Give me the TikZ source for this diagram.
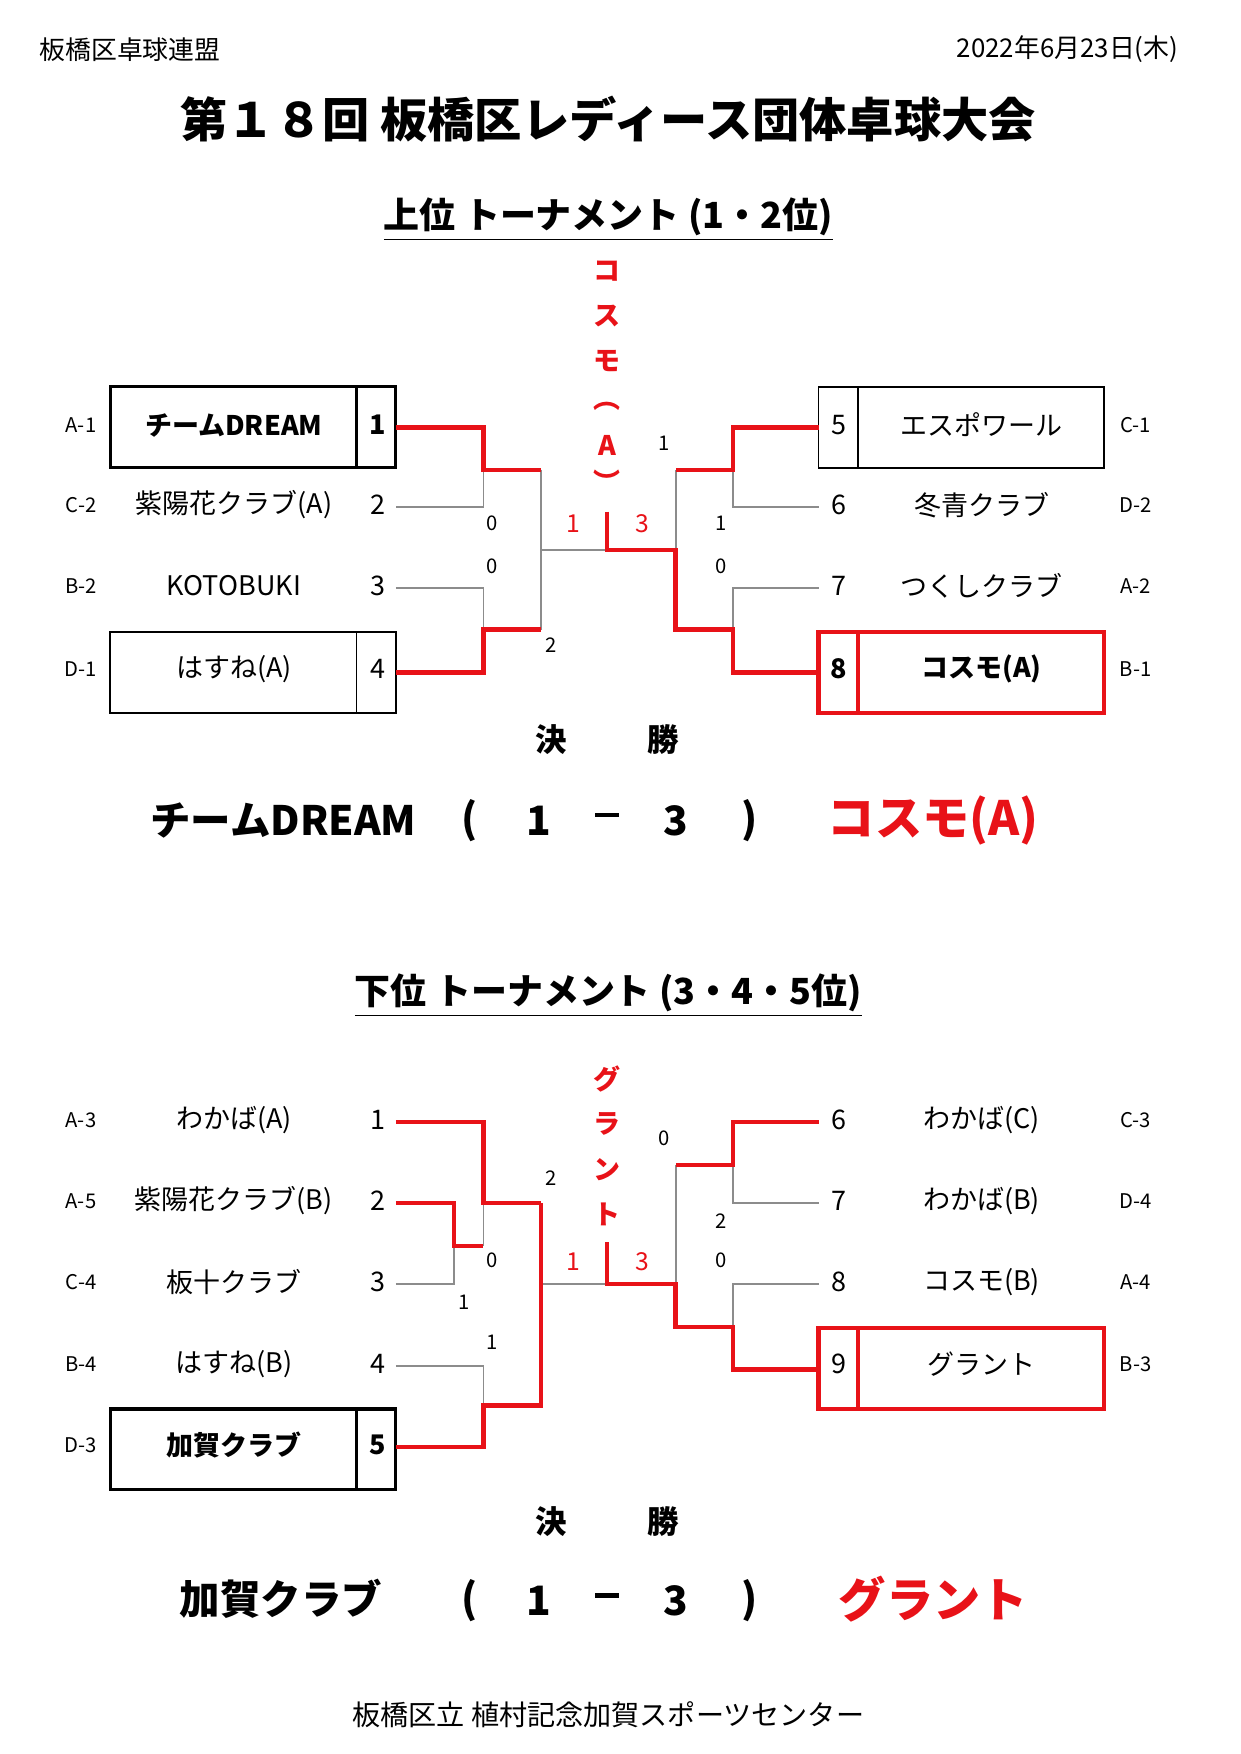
\documentclass[tikz,border=0pt]{standalone}
\usepackage{fontspec}
\setmainfont{Noto Sans CJK JP}
\definecolor{rd}{RGB}{232,18,24}
\definecolor{gl}{RGB}{140,140,140}
\begin{document}
\begin{tikzpicture}[x=0.5pt,y=-0.5pt,
 lab/.style={font=\fontsize{9}{10}\selectfont},
 tm/.style={font=\fontsize{12}{13}\selectfont},
 tmb/.style={font=\fontsize{12}{13}\selectfont\bfseries},
 sc/.style={font=\fontsize{9}{10}\selectfont},
 rsc/.style={font=\fontsize{11}{12}\selectfont,text=rd},
 win/.style={draw=rd,line width=2pt},
 lose/.style={draw=gl,line width=0.7pt},
 bbox/.style={draw=black,line width=1.5pt},
 tbox/.style={draw=black,line width=0.7pt},
 rbox/.style={draw=rd,line width=2pt},
 vt/.style={font=\fontsize{12}{13}\selectfont\bfseries,text=rd},
 fin/.style={font=\fontsize{18}{20}\selectfont\bfseries}]
\useasboundingbox (0,0) rectangle (1103,1560);
\node[anchor=west,font=\fontsize{11.5}{12}\selectfont] (hl) at (28,44) {板橋区卓球連盟};
\node[anchor=east,font=\fontsize{11.5}{12}\selectfont] (hr) at (1055,44) {2022年6月23日(木)};
\node[font=\fontsize{21}{23}\selectfont\bfseries] (title) at (541,106) {第１８回 板橋区レディース団体卓球大会};
\node[font=\fontsize{16}{18}\selectfont\bfseries] (sub1) at (541,195) {\underline{上位 トーナメント (1・2位)}};
% upper boxes
\draw[bbox] (98,344) rectangle (352,416); \draw[bbox] (317,344) -- (317,416);
\draw[tbox] (98,562) rectangle (352,634); \draw[tbox] (317,562) -- (317,634);
\draw[tbox] (728,344) rectangle (982,416); \draw[tbox] (763,344) -- (763,416);
\draw[rbox] (728,562) rectangle (982,634); \draw[rbox] (763,562) -- (763,634);
\foreach \y/\l/\t/\n/\s in {378/A-1/チームDREAM/1/tmb,449/C-2/紫陽花クラブ(A)/2/tm,521/B-2/KOTOBUKI/3/tm,595/D-1/はすね(A)/4/tm}{
 \node[lab] at (72,\y) {\l}; \node[\s] at (208,\y) {\t}; \node[\s] at (336,\y) {\n};}
\foreach \y/\l/\t/\n/\s in {378/C-1/エスポワール/5/tm,449/D-2/冬青クラブ/6/tm,521/A-2/つくしクラブ/7/tm,595/B-1/コスモ(A)/8/tmb}{
 \node[lab] at (1010,\y) {\l}; \node[\s] at (873,\y) {\t}; \node[\s] at (746,\y) {\n};}
% upper lines
\draw[lose] (430,418) -- (430,451) -- (352,451);
\draw[lose] (352,523) -- (430,523) -- (430,560);
\draw[lose] (481,418) -- (481,560); \draw[lose] (481,489) -- (540,489);
\draw[lose] (652,418) -- (652,451) -- (728,451);
\draw[lose] (728,523) -- (652,523) -- (652,560);
\draw[lose] (601,418) -- (601,489);
\draw[win] (352,380) -- (430,380) -- (430,418) -- (481,418);
\draw[win] (352,598) -- (430,598) -- (430,560) -- (481,560);
\draw[win] (728,380) -- (652,380) -- (652,418) -- (601,418);
\draw[win] (540,455) -- (540,489) -- (601,489) -- (601,560) -- (652,560) -- (652,598) -- (728,598);
\foreach \x/\y/\v in {438/465/0,438/504/0,490/574/2,591/394/1,641/465/1,641/504/0}{\node[sc] at (\x,\y) {\v};}
\node[rsc] at (510,466) {1}; \node[rsc] at (571,466) {3};
\foreach \y/\c in {241/コ,281/ス,321/モ,361/︵,396/A,428/︶}{\node[vt] at (540,\y) {\c};}
\node[font=\fontsize{14}{16}\selectfont\bfseries] at (490,658) {決};
\node[font=\fontsize{14}{16}\selectfont\bfseries] at (590,658) {勝};
\node[fin] at (252,730) {チームDREAM};
\foreach \x/\c in {418/(,479/1,601/3,667/)}{\node[fin] at (\x,730) {\c};}
\node[fin] at (540,730) {\rule[0.28em]{0.6em}{2pt}};
\node[fin,text=rd,font=\fontsize{21}{23}\selectfont\bfseries] at (830,730) {コスモ(A)};
% lower
\node[font=\fontsize{16}{18}\selectfont\bfseries] (sub2) at (541,885) {\underline{下位 トーナメント (3・4・5位)}};
\draw[bbox] (98,1253) rectangle (352,1325); \draw[bbox] (317,1253) -- (317,1325);
\draw[rbox] (728,1181) rectangle (982,1253); \draw[rbox] (763,1181) -- (763,1253);
\foreach \y/\l/\t/\n/\s in {996/A-3/わかば(A)/1/tm,1068/A-5/紫陽花クラブ(B)/2/tm,1140/C-4/板十クラブ/3/tm,1213/B-4/はすね(B)/4/tm,1285/D-3/加賀クラブ/5/tmb}{
 \node[lab] at (72,\y) {\l}; \node[\s] at (208,\y) {\t}; \node[\s] at (336,\y) {\n};}
\foreach \y/\l/\t/\n in {996/C-3/わかば(C)/6,1068/D-4/わかば(B)/7,1140/A-4/コスモ(B)/8,1213/B-3/グラント/9}{
 \node[lab] at (1010,\y) {\l}; \node[tm] at (873,\y) {\t}; \node[tm] at (746,\y) {\n};}
\draw[lose] (352,1142) -- (404,1142) -- (404,1108);
\draw[lose] (430,1070) -- (430,1108);
\draw[lose] (352,1215) -- (430,1215) -- (430,1250);
\draw[lose] (481,1142) -- (540,1142);
\draw[lose] (652,1036) -- (652,1070) -- (728,1070);
\draw[lose] (728,1142) -- (652,1142) -- (652,1180);
\draw[lose] (601,1036) -- (601,1142);
\draw[win] (352,998) -- (430,998) -- (430,1070) -- (481,1070);
\draw[win] (352,1070) -- (404,1070) -- (404,1108) -- (430,1108);
\draw[win] (352,1287) -- (430,1287) -- (430,1250) -- (481,1250) -- (481,1070);
\draw[win] (728,998) -- (652,998) -- (652,1036) -- (601,1036);
\draw[win] (540,1105) -- (540,1142) -- (601,1142) -- (601,1180) -- (652,1180) -- (652,1218) -- (728,1218);
\foreach \x/\y/\v in {438/1121/0,413/1158/1,490/1048/2,438/1194/1,591/1012/0,641/1086/2,641/1121/0}{\node[sc] at (\x,\y) {\v};}
\node[rsc] at (510,1122) {1}; \node[rsc] at (571,1122) {3};
\foreach \y/\c in {960/グ,1000/ラ,1040/ン,1080/ト}{\node[vt] at (540,\y) {\c};}
\node[font=\fontsize{14}{16}\selectfont\bfseries] at (490,1353) {決};
\node[font=\fontsize{14}{16}\selectfont\bfseries] at (590,1353) {勝};
\node[fin] at (250,1422) {加賀クラブ};
\foreach \x/\c in {418/(,479/1,601/3,667/)}{\node[fin] at (\x,1424) {\c};}
\node[fin] at (540,1424) {\rule[0.28em]{0.6em}{2pt}};
\node[fin,text=rd,font=\fontsize{21}{23}\selectfont\bfseries] at (830,1422) {グラント};
\node[font=\fontsize{12.5}{14}\selectfont] (foot) at (541,1525) {板橋区立 植村記念加賀スポーツセンター};
\end{tikzpicture}
\end{document}
